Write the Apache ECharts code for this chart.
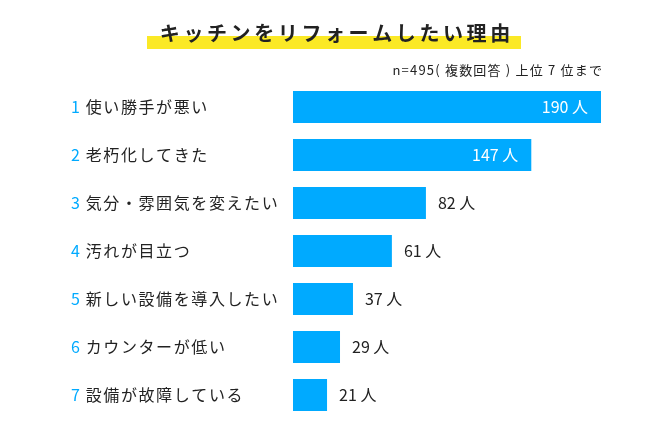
<!DOCTYPE html>
<html lang="ja">
<head>
    <meta charset="UTF-8">
    <title>キッチンをリフォームしたい理由</title>
    <script src="https://cdn.jsdelivr.net/npm/echarts@6/dist/echarts.min.js"></script>
    <style>
        html, body { margin: 0; padding: 0; background: #fff; }
        #main { width: 670px; height: 440px; }
    </style>
</head>
<body>
<div id="main"></div>
<script type="text/javascript">
    // データ
    var titleText = 'キッチンをリフォームしたい理由';
    var noteText = 'n=495( 複数回答 ) 上位 7 位まで';
    var categories = ['使い勝手が悪い', '老朽化してきた', '気分・雰囲気を変えたい', '汚れが目立つ', '新しい設備を導入したい', 'カウンターが低い', '設備が故障している'];
    var counts = [190, 147, 82, 61, 37, 29, 21];
    var unit = '人';

    var FONT = '"Noto Sans CJK JP", "Noto Sans", sans-serif';
    var BLUE = '#00aaff';

    // 1文字ずつ rich で区切って字間を空ける
    function spaced(str, key) {
        return str.split('').map(function (ch) {
            return '{' + key + '|' + ch + '}';
        }).join('');
    }

    var myChart = echarts.init(document.getElementById('main'));

    var option = {
        animation: false,
        title: {
            text: spaced(titleText, 't'),
            left: 'center',
            top: 18,
            z: 10,
            textStyle: {
                rich: {
                    t: {
                        fontFamily: FONT,
                        fontSize: 20,
                        fontWeight: 'bold',
                        color: '#222',
                        padding: [0, 1.8, 0, 1.8]
                    }
                }
            }
        },
        graphic: [
            {
                type: 'rect',
                z: -1,
                shape: {x: 147, y: 36, width: 374, height: 13},
                style: {fill: '#fbe926'}
            },
            {
                type: 'text',
                right: 68,
                top: 64,
                style: {
                    text: spaced(noteText, 's'),
                    rich: {
                        s: {
                            fontFamily: FONT,
                            fontSize: 13,
                            fill: '#222',
                            padding: [0, 0.6, 0, 0.6]
                        }
                    }
                }
            }
        ],
        grid: {left: 293, right: 69, top: 83, bottom: 21},
        xAxis: {
            type: 'value',
            min: 0,
            max: 190,
            show: false
        },
        yAxis: {
            type: 'category',
            inverse: true,
            data: categories,
            axisLine: {show: false},
            axisTick: {show: false},
            axisLabel: {
                align: 'left',
                margin: 222,
                formatter: function (value, index) {
                    return '{n|' + (index + 1) + '}' + spaced(value, 'c');
                },
                rich: {
                    n: {
                        fontFamily: FONT,
                        fontSize: 16,
                        color: BLUE,
                        padding: [0, 5, 0, 0]
                    },
                    c: {
                        fontFamily: FONT,
                        fontSize: 16,
                        color: '#222',
                        padding: [0, 0.8, 0, 0.8]
                    }
                }
            }
        },
        series: [{
            type: 'bar',
            barWidth: 32,
            itemStyle: {color: BLUE},
            data: counts.map(function (v) {
                var inside = v >= 100;
                return {
                    value: v,
                    label: {
                        show: true,
                        position: inside ? 'insideRight' : 'right',
                        distance: inside ? 13 : 12,
                        color: inside ? '#fff' : '#222',
                        fontFamily: FONT,
                        fontSize: 16,
                        formatter: '{c} ' + unit
                    }
                };
            })
        }]
    };

    myChart.setOption(option);
</script>
</body>
</html>
